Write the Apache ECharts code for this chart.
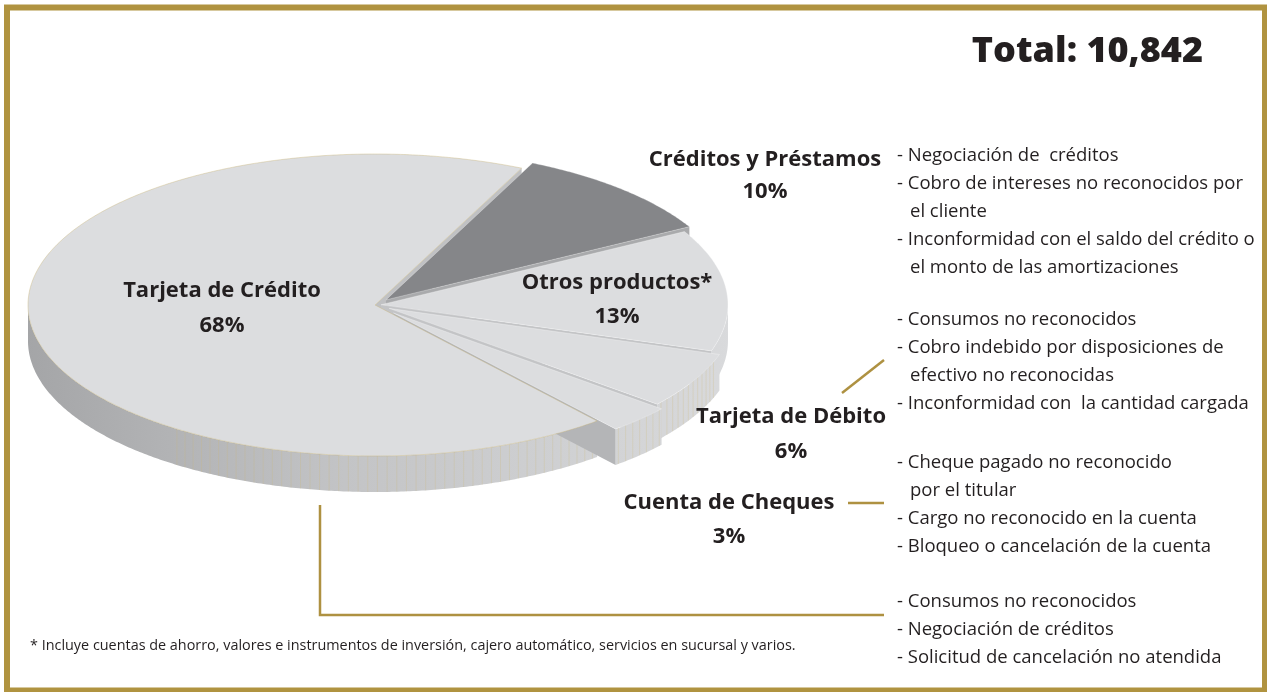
<!DOCTYPE html>
<html>
<head>
<meta charset="utf-8">
<script src="https://cdn.jsdelivr.net/npm/echarts@6/dist/echarts.min.js"></script>
<style>
  html, body { margin: 0; padding: 0; background: #fff; }
  #main { width: 1267px; height: 692px; }
</style>
</head>
<body>
<div id="main"></div>
<script>
// datos de la grafica
var categories = ['Créditos y Préstamos', 'Otros productos*', 'Tarjeta de Débito', 'Cuenta de Cheques', 'Tarjeta de Crédito'];
var shares = [10, 13, 6, 3, 68];
var totalText = 'Total: 10,842';

var notes = [
    ['- Negociación de  créditos', '- Cobro de intereses no reconocidos por', 'el cliente', '- Inconformidad con el saldo del crédito o', 'el monto de las amortizaciones'],
    [],
    ['- Consumos no reconocidos', '- Cobro indebido por disposiciones de', 'efectivo no reconocidas', '- Inconformidad con  la cantidad cargada'],
    ['- Cheque pagado no reconocido', 'por el titular', '- Cargo no reconocido en la cuenta', '- Bloqueo o cancelación de la cuenta'],
    ['- Consumos no reconocidos', '- Negociación de créditos', '- Solicitud de cancelación no atendida']
];
var footnote = '* Incluye cuentas de ahorro, valores e instrumentos de inversión, cajero automático, servicios en sucursal y varios.';

// layout y estilo
var geo = { cx: 375, cy: 305, rx: 347, ry: 151, depth: 36, start: -65 };
var explode = [16, 6, 16, 26, 0];
var topColor = ['#858689', '#dcdddf', '#dcdddf', '#dcdddf', '#dcdddf'];
var wallColor = ['#a9aaac', '#c3c4c6', '#c3c4c6', '#b4b5b7', '#c0c1c3'];
var labelPos = [[765, 160, 32], [617, 283, 34], [791, 417, 35], [729, 503, 34], [222, 291, 35]];
var notePos = [[897, 156], null, [897, 320], [897, 463], [897, 602]];
var gold = '#ae9141';
var bodyFont = '"Open Sans", Lato, sans-serif';

var chart = echarts.init(document.getElementById('main'));

var total = shares.reduce(function (a, b) { return a + b; }, 0);

function sliceAngles(idx) {
    var cum = 0;
    for (var i = 0; i < idx; i++) cum += shares[i];
    var a0 = geo.start + 360 * cum / total;
    var a1 = a0 + 360 * shares[idx] / total;
    return [a0, a1];
}

function rad(d) { return d * Math.PI / 180; }

function rim(ox, oy, t, dz) {
    return [geo.cx + ox + geo.rx * Math.cos(rad(t)), geo.cy + oy + geo.ry * Math.sin(rad(t)) + (dz || 0)];
}

function offsetOf(idx, a0, a1) {
    var m = rad((a0 + a1) / 2);
    var e = explode[idx];
    return [e * Math.cos(m), e * Math.sin(m) * geo.ry / geo.rx];
}

var wallGrad = new echarts.graphic.LinearGradient(25, 0, 735, 0, [
    { offset: 0, color: '#a4a5a7' },
    { offset: 0.45, color: '#c3c4c6' },
    { offset: 1, color: '#d9dadc' }
], true);

function renderSides(params, api) {
    var idx = params.dataIndex;
    var ang = sliceAngles(idx);
    var a0 = ang[0], a1 = ang[1];
    var off = offsetOf(idx, a0, a1);
    var ox = off[0], oy = off[1];
    var d = geo.depth;
    var apex = [geo.cx + ox, geo.cy + oy];
    var children = [];
    var zb = idx === 4 ? 0 : 10 + idx;

    // pared exterior (solo la parte frontal)
    var f0 = Math.max(a0, 0), f1 = Math.min(a1, 180);
    if (f1 > f0) {
        var pts = [], low = [];
        for (var t = f0; t <= f1 + 1e-6; t += 0.5) {
            pts.push(rim(ox, oy, t));
            low.unshift(rim(ox, oy, t, d));
        }
        pts.push(rim(ox, oy, f1));
        low.unshift(rim(ox, oy, f1, d));
        children.push({
            type: 'polygon', z2: zb,
            shape: { points: pts.concat(low) },
            style: { fill: wallGrad }
        });
        // textura de lineas finas
        for (var s = Math.ceil(f0 / 1.6) * 1.6; s < f1; s += 1.6) {
            if (s < 20 || s > 125) continue;
            var p = rim(ox, oy, s), q = rim(ox, oy, s, d);
            children.push({
                type: 'line', z2: zb + 0.5, silent: true,
                shape: { x1: p[0], y1: p[1], x2: q[0], y2: q[1] },
                style: { stroke: 'rgba(205,185,120,0.35)', lineWidth: 0.7 }
            });
        }
    }
    // paredes radiales visibles
    var edges = [];
    if (Math.cos(rad(a0)) < 0) edges.push(a0);
    if (Math.cos(rad(a1)) > 0) edges.push(a1);
    edges.forEach(function (a) {
        var r0 = rim(ox, oy, a);
        children.push({
            type: 'polygon', z2: zb + 0.2,
            shape: { points: [apex, r0, [r0[0], r0[1] + d], [apex[0], apex[1] + d]] },
            style: { fill: wallColor[idx] }
        });
    });
    return { type: 'group', children: children };
}

function renderTops(params, api) {
    var idx = params.dataIndex;
    var ang = sliceAngles(idx);
    var a0 = ang[0], a1 = ang[1];
    var off = offsetOf(idx, a0, a1);
    var ox = off[0], oy = off[1];
    var pts = [[geo.cx + ox, geo.cy + oy]];
    for (var t = a0; t <= a1 + 1e-6; t += 0.5) pts.push(rim(ox, oy, t));
    pts.push(rim(ox, oy, a1));
    return {
        type: 'polygon',
        z2: 20 + idx,
        shape: { points: pts },
        style: {
            fill: topColor[idx],
            stroke: idx === 4 ? 'rgba(200,180,115,0.55)' : 'rgba(255,255,255,0.4)',
            lineWidth: 0.7
        }
    };
}

var graphics = [];

// marco
graphics.push({
    type: 'rect', z: 100,
    shape: { x: 7, y: 7.5, width: 1258, height: 683 },
    style: { fill: null, stroke: '#b09340', lineWidth: 6 }
});

graphics.push({
    type: 'text', z: 100, x: 1203, y: 52,
    style: {
        text: totalText, align: 'right', verticalAlign: 'middle',
        font: '800 36px "Open Sans", Lato, sans-serif', fill: '#231f20'
    }
});

categories.forEach(function (name, i) {
    var lp = labelPos[i];
    graphics.push({
        type: 'text', z: 100, x: lp[0], y: lp[1] - lp[2] / 2,
        style: {
            text: name + '\n' + shares[i] + '%',
            align: 'center', verticalAlign: 'top',
            lineHeight: lp[2],
            font: 'bold 22px ' + bodyFont, fill: '#231f20'
        }
    });
    var np = notePos[i];
    if (!np) return;
    notes[i].forEach(function (line, k) {
        var cont = line.charAt(0) !== '-';
        graphics.push({
            type: 'text', z: 100, x: np[0] + (cont ? 13 : 0), y: np[1] + k * 28,
            style: {
                text: line, align: 'left', verticalAlign: 'middle',
                font: '18.5px ' + bodyFont, fill: '#231f20'
            }
        });
    });
});

// lineas guia
graphics.push({
    type: 'line', z: 100,
    shape: { x1: 842, y1: 393, x2: 884, y2: 360 },
    style: { stroke: gold, lineWidth: 2.5 }
});
graphics.push({
    type: 'line', z: 100,
    shape: { x1: 848, y1: 503, x2: 884, y2: 503 },
    style: { stroke: gold, lineWidth: 2.5 }
});
graphics.push({
    type: 'polyline', z: 100,
    shape: { points: [[320, 505], [320, 615], [884, 615]] },
    style: { stroke: gold, lineWidth: 2.5, fill: null }
});

graphics.push({
    type: 'text', z: 100, x: 30, y: 646,
    style: {
        text: footnote, align: 'left', verticalAlign: 'middle',
        font: '14.4px ' + bodyFont, fill: '#231f20'
    }
});

var option = {
    backgroundColor: '#ffffff',
    animation: false,
    graphic: graphics,
    series: [
        {
            type: 'custom',
            name: 'lados',
            coordinateSystem: 'none',
            z: 1,
            silent: true,
            renderItem: renderSides,
            data: shares
        },
        {
            type: 'custom',
            name: 'caras',
            coordinateSystem: 'none',
            z: 2,
            silent: true,
            renderItem: renderTops,
            data: shares
        }
    ]
};

chart.setOption(option);
</script>
</body>
</html>
